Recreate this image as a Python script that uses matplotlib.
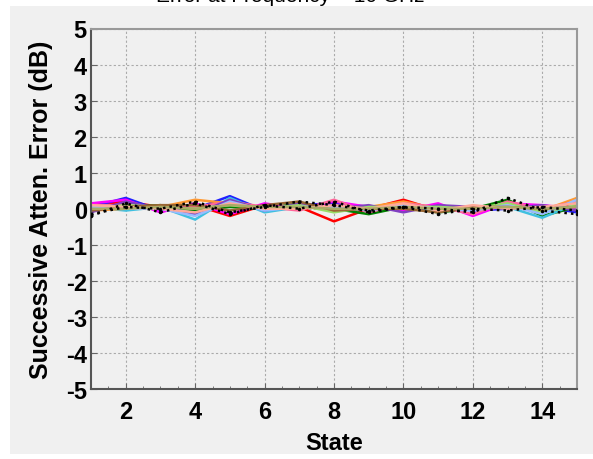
import matplotlib
matplotlib.use("Agg")
import matplotlib.pyplot as plt
from matplotlib.patches import Rectangle
from matplotlib.ticker import MultipleLocator
from matplotlib.font_manager import FontProperties

plt.rcParams["axes.unicode_minus"] = False

states = list(range(1, 16))

s_black = [-0.15, 0.05, 0.0, 0.2, -0.1, 0.05, 0.2, 0.1, -0.05, 0.05, 0.0, -0.1, 0.3, -0.05, -0.15]
s_red = [0.1, 0.2, 0.05, 0.1, -0.2, 0.1, 0.05, -0.35, 0.0, 0.25, -0.05, 0.05, 0.1, 0.0, 0.1]
s_blue = [0.05, 0.3, -0.05, 0.0, 0.35, -0.05, 0.1, 0.15, 0.05, 0.0, 0.1, -0.05, 0.0, 0.05, -0.1]
s_green = [0.0, 0.05, 0.1, -0.05, 0.05, 0.0, 0.15, 0.0, -0.15, 0.05, -0.1, 0.0, 0.25, -0.2, 0.05]
s_magenta = [0.15, 0.25, -0.1, 0.15, -0.15, 0.15, 0.0, 0.2, 0.05, -0.05, 0.15, -0.2, 0.15, 0.1, 0.0]
s_cyan = [0.05, -0.05, 0.05, -0.3, 0.3, -0.1, 0.05, 0.05, 0.0, 0.1, -0.05, 0.05, 0.05, -0.25, 0.15]
s_orange = [-0.05, 0.0, 0.05, 0.25, 0.15, 0.0, 0.1, 0.0, 0.05, 0.2, 0.0, 0.0, 0.1, -0.05, 0.3]
s_pink = [0.1, 0.1, 0.0, 0.05, 0.2, 0.05, -0.05, 0.25, -0.1, 0.15, 0.05, -0.15, 0.2, 0.0, 0.2]
s_purple = [-0.1, 0.2, 0.0, -0.15, 0.25, -0.05, 0.15, 0.0, 0.1, -0.1, 0.1, 0.05, 0.0, 0.1, -0.05]
s_lgreen = [0.0, 0.1, 0.05, 0.0, 0.1, 0.0, 0.1, -0.1, 0.05, 0.05, 0.05, 0.0, 0.15, -0.1, 0.1]
s_lblue = [0.05, 0.0, 0.0, -0.2, 0.2, -0.05, 0.05, 0.05, -0.05, 0.1, 0.0, -0.05, 0.1, -0.15, 0.25]
s_brown = [-0.05, 0.05, 0.1, 0.1, -0.05, 0.1, 0.2, -0.05, 0.0, 0.0, -0.1, 0.05, 0.05, 0.0, 0.05]
s_black2 = [-0.2, 0.15, -0.1, 0.15, -0.15, 0.1, 0.0, 0.2, -0.1, 0.05, -0.15, 0.0, -0.05, 0.05, -0.05]
s_salmon = [0.1, 0.05, 0.0, -0.1, 0.15, 0.0, 0.0, 0.1, 0.0, 0.15, -0.05, 0.1, 0.0, 0.05, 0.15]
s_olive = [0.0, 0.0, 0.05, 0.0, 0.1, 0.05, 0.05, 0.0, 0.0, 0.05, 0.0, 0.0, 0.05, 0.0, 0.05]

series = [
    (s_red, "#ff0000", "-"),
    (s_blue, "#2020ff", "-"),
    (s_green, "#008000", "-"),
    (s_magenta, "#ff00ff", "-"),
    (s_cyan, "#40c0e0", "-"),
    (s_orange, "#ff9933", "-"),
    (s_pink, "#ff6699", "-"),
    (s_purple, "#8040c0", "-"),
    (s_lgreen, "#99dd66", "-"),
    (s_lblue, "#99bbff", "-"),
    (s_brown, "#996633", "-"),
    (s_salmon, "#ffaa99", "-"),
    (s_olive, "#aaaa66", "-"),
    (s_black, "#000000", ":"),
    (s_black2, "#000000", ":"),
]

x_ticks = [2, 4, 6, 8, 10, 12, 14]
y_ticks = [-5, -4, -3, -2, -1, 0, 1, 2, 3, 4, 5]

fig = plt.figure(figsize=(5.93, 4.60), dpi=100, facecolor="white")
bg = Rectangle((10 / 593, 5 / 460), 1 - 10 / 593, 1 - 12 / 460,
               transform=fig.transFigure, facecolor="#f0f0f0",
               edgecolor="none", zorder=-10)
fig.add_artist(bg)
fig.text(0.49, 1 - 2 / 460, "Error at Frequency = 10 GHz", ha="center",
         va="baseline", fontsize=15, family="Liberation Sans", zorder=-5)

ax = fig.add_axes([91 / 593, 1 - 390 / 460, (577 - 91) / 593, (390 - 29.5) / 460])
ax.set_zorder(5)
ax.set_facecolor("#f0f0f0")

for vals, col, ls in series:
    if ls == ":":
        ax.plot(states, vals, color=col, linestyle=":", linewidth=1.8,
                marker=".", markersize=3, zorder=3)
    else:
        ax.plot(states, vals, color=col, linestyle="-", linewidth=1.8, zorder=2)

ax.set_xlim(1, 15)
ax.set_ylim(-5, 5)
ax.set_xticks(x_ticks)
ax.set_yticks(y_ticks)
ax.xaxis.set_minor_locator(MultipleLocator(0.5))
ax.grid(True, which="major", linestyle=(0, (2, 2)), color="#aaaaaa", linewidth=0.8)
ax.tick_params(which="both", direction="in", color="#666666")
ax.tick_params(which="major", length=4)
ax.tick_params(axis="x", which="major", pad=8)
ax.tick_params(axis="y", which="major", pad=3)
ax.tick_params(which="minor", length=2)
ax.tick_params(axis="y", which="minor", left=False)
ax.spines["left"].set_color("#555555")
ax.spines["bottom"].set_color("#555555")
ax.spines["top"].set_color("#999999")
ax.spines["right"].set_color("#999999")
for sp in ax.spines.values():
    sp.set_linewidth(1.5)

tick_fp = FontProperties(family=["Liberation Sans", "DejaVu Sans"], weight="bold", size=17)
for lbl in ax.get_xticklabels() + ax.get_yticklabels():
    lbl.set_fontproperties(tick_fp)

ax.set_xlabel("State", family="Liberation Sans", weight="bold", fontsize=17, labelpad=6)
ax.set_ylabel("Successive Atten. Error (dB)", family="Liberation Sans",
              weight="bold", fontsize=18, labelpad=9)

fig.savefig("out.png", dpi=100, facecolor=fig.get_facecolor())
